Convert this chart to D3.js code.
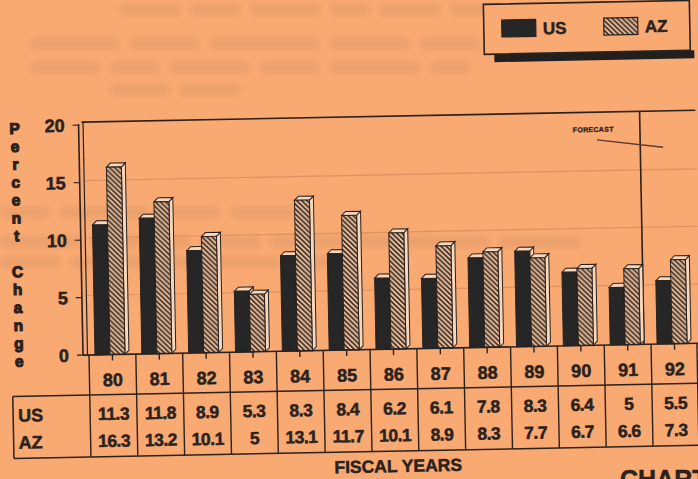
<!DOCTYPE html>
<html>
<head>
<meta charset="utf-8">
<script src="https://cdn.jsdelivr.net/npm/d3@7/dist/d3.min.js"></script>
<style>
  html, body { margin: 0; padding: 0; background: #f9a972; }
  svg { display: block; }
  text { font-family: "Liberation Sans", Arial, sans-serif; font-weight: bold; fill: #2a221e;
         stroke: #2a221e; stroke-width: 0.5px; }
</style>
</head>
<body>
<div id="chart"></div>
<script>
// Fiscal years and annual percent change, US vs Arizona
const years = ["80", "81", "82", "83", "84", "85", "86", "87", "88", "89", "90", "91", "92"];
const seriesNames = ["US", "AZ"];
const usValues = [11.3, 11.8, 8.9, 5.3, 8.3, 8.4, 6.2, 6.1, 7.8, 8.3, 6.4, 5, 5.5];
const azValues = [16.3, 13.2, 10.1, 5, 13.1, 11.7, 10.1, 8.9, 8.3, 7.7, 6.7, 6.6, 7.3];
const yTicks = [0, 5, 10, 15, 20];
const forecastFrom = "92";
const axisTitle = "Percent Change";
const xTitle = "FISCAL YEARS";

const W = 698, H = 479;
const ink = "#2a221e";
const dark = "#262626";
const light = "#f8d6bb";
const bg = "#f9a972";

const svg = d3.select("#chart").append("svg")
  .attr("width", W).attr("height", H);

const defs = svg.append("defs");
const hatch = defs.append("pattern")
  .attr("id", "hatch").attr("patternUnits", "userSpaceOnUse")
  .attr("width", 5).attr("height", 5);
hatch.append("rect").attr("width", 5).attr("height", 5).attr("fill", "#f4c7a3");
hatch.append("path")
  .attr("d", "M-1,-1 L6,6 M-6,-1 L1,6 M4,-1 L11,6")
  .attr("stroke", "#3a2c24").attr("stroke-width", 1.7);

const soft = defs.append("filter").attr("id", "soft")
  .attr("x", "-10%").attr("y", "-50%").attr("width", "120%").attr("height", "200%");
soft.append("feGaussianBlur").attr("stdDeviation", 2.4);

// faint print showing through the paper, drawn as word-like smudges
const ghost = svg.append("g").attr("filter", "url(#soft)").attr("opacity", 0.07);
const ghostLines = [
  [120, 4, [60, 50, 70, 40, 60, 50]], [30, 38, [90, 70, 110, 80, 60]],
  [30, 62, [70, 50, 80, 60, 90, 40]], [110, 84, [60, 60]],
  [0, 207, [50, 90, 60, 70]], [0, 236, [80, 100, 60, 120, 90, 80]], [0, 257, [60, 90, 110, 70]]
];
ghostLines.forEach(([x0, y0, words]) => {
  let cx = x0;
  words.forEach(w => {
    ghost.append("rect").attr("x", cx).attr("y", y0).attr("width", w).attr("height", 11)
      .attr("rx", 4).attr("fill", "#4a3a36");
    cx += w + 10;
  });
});

// the sheet sits slightly tilted
const g = svg.append("g").attr("transform", "rotate(-1.1, 88, 355)");

const x = d3.scaleBand().domain(years).range([89, 698]).padding(0);
const xs = d3.scaleBand().domain(seriesNames).range([6, 36]).padding(0);
const y = d3.scaleLinear().domain([0, 20]).range([355, 125]);
const depth = 4;

// gridlines
g.append("g").selectAll("line").data(yTicks.filter(t => t > 0 && t < 20)).join("line")
  .attr("x1", 88).attr("x2", 700)
  .attr("y1", d => y(d) - 2).attr("y2", d => y(d) - 2)
  .attr("stroke", "#b86e48").attr("stroke-opacity", 0.4).attr("stroke-width", 1.2);

// plot frame: top edge, double left wall, floor
g.append("line").attr("x1", 86).attr("x2", 700).attr("y1", y(20) - 3).attr("y2", y(20) - 3)
  .attr("stroke", ink).attr("stroke-width", 1.6);
g.append("line").attr("x1", 83).attr("x2", 83).attr("y1", y(20) - 1).attr("y2", y(0))
  .attr("stroke", ink).attr("stroke-width", 1.6);
g.append("line").attr("x1", 87.5).attr("x2", 87.5).attr("y1", y(20) - 3).attr("y2", y(0))
  .attr("stroke", ink).attr("stroke-width", 1.2);

// y axis ticks and labels
const yAxis = g.append("g");
yAxis.selectAll("line").data(yTicks).join("line")
  .attr("x1", 77).attr("x2", 83).attr("y1", d => y(d)).attr("y2", d => y(d))
  .attr("stroke", ink).attr("stroke-width", 1.2);
yAxis.selectAll("text").data(yTicks).join("text")
  .attr("x", 69).attr("y", d => y(d)).attr("dy", "0.36em")
  .attr("text-anchor", "end").attr("font-size", 18).text(d => d);

// vertical axis title, one letter per line
const letters = axisTitle.split("");
const titleG = g.append("g");
titleG.selectAll("text").data(letters).join("text")
  .attr("x", 19).attr("y", (d, i) => 127 + i * 17.9).attr("dy", "0.36em")
  .attr("text-anchor", "middle").attr("font-size", 15.5).style("stroke-width", "1.1px")
  .text(d => d);

// forecast divider and note
const fx = x(forecastFrom) - 7;
g.append("line").attr("x1", fx).attr("x2", fx).attr("y1", y(20) - 3).attr("y2", y(0))
  .attr("stroke", ink).attr("stroke-width", 1.6);
g.append("text").attr("x", 577).attr("y", y(18.55)).attr("font-size", 7)
  .attr("letter-spacing", "0.3px").style("stroke-width", "0.3px").text("FORECAST");
g.append("line").attr("x1", 601).attr("y1", y(17.85)).attr("x2", 667).attr("y2", y(17.1))
  .attr("stroke", "#5a3a2a").attr("stroke-width", 1.4);

// bars with a shallow 3D top and side
const data = years.map((yr, i) => ({ yr, US: usValues[i], AZ: azValues[i] }));
const barG = g.append("g");
data.forEach(d => {
  seriesNames.forEach(s => {
    const x0 = x(d.yr) + xs(s), w = xs.bandwidth();
    const t = y(d[s]), b = y(0);
    barG.append("path")
      .attr("d", `M${x0 + w},${t} L${x0 + w + depth},${t - depth} L${x0 + w + depth},${b - depth} L${x0 + w},${b} Z`)
      .attr("fill", light).attr("stroke", ink).attr("stroke-width", 1);
    barG.append("path")
      .attr("d", `M${x0},${t} L${x0 + depth},${t - depth} L${x0 + w + depth},${t - depth} L${x0 + w},${t} Z`)
      .attr("fill", light).attr("stroke", ink).attr("stroke-width", 1);
    barG.append("rect")
      .attr("x", x0).attr("y", t).attr("width", w).attr("height", b - t)
      .attr("fill", s === "US" ? dark : "url(#hatch)")
      .attr("stroke", ink).attr("stroke-width", 1);
  });
});

// floor line and category ticks
g.append("line").attr("x1", 83).attr("x2", 700).attr("y1", y(0)).attr("y2", y(0))
  .attr("stroke", ink).attr("stroke-width", 1.6);
g.append("g").selectAll("line").data(years).join("line")
  .attr("x1", d => x(d) + x.bandwidth() / 2).attr("x2", d => x(d) + x.bandwidth() / 2)
  .attr("y1", y(0)).attr("y2", y(0) + 6)
  .attr("stroke", ink).attr("stroke-width", 1.4);

// data table under the plot
const rowSep = 395, rowBottom = 457;
const rowY = { US: 414, AZ: 441 };
const table = g.append("g");
table.append("line").attr("x1", 12).attr("x2", 700).attr("y1", rowSep).attr("y2", rowSep)
  .attr("stroke", ink).attr("stroke-width", 1.5);
table.append("line").attr("x1", 12).attr("x2", 700).attr("y1", rowBottom).attr("y2", rowBottom)
  .attr("stroke", ink).attr("stroke-width", 1.5);
table.append("line").attr("x1", 12).attr("x2", 12).attr("y1", rowSep).attr("y2", rowBottom)
  .attr("stroke", ink).attr("stroke-width", 1.5);
table.selectAll("line.col").data(years.concat(["end"])).join("line").attr("class", "col")
  .attr("x1", d => d === "end" ? x.range()[1] - 1 : x(d))
  .attr("x2", d => d === "end" ? x.range()[1] - 1 : x(d))
  .attr("y1", y(0)).attr("y2", rowBottom)
  .attr("stroke", ink).attr("stroke-width", 1.4);
table.selectAll("text.yr").data(years).join("text").attr("class", "yr")
  .attr("x", d => x(d) + x.bandwidth() / 2).attr("y", 380).attr("dy", "0.36em")
  .attr("text-anchor", "middle").attr("font-size", 18).text(d => d);
seriesNames.forEach(s => {
  table.append("text").attr("x", 17).attr("y", rowY[s]).attr("dy", "0.36em")
    .attr("font-size", 18).text(s);
  table.selectAll("text.v" + s).data(data).join("text").attr("class", "v" + s)
    .attr("x", d => x(d.yr) + x.bandwidth() / 2).attr("y", rowY[s]).attr("dy", "0.36em")
    .attr("text-anchor", "middle").attr("font-size", 17.5).attr("letter-spacing", "-0.5px")
    .text(d => d[s]);
});

// x title
g.append("text").attr("x", 396).attr("y", 478).attr("text-anchor", "middle")
  .attr("font-size", 17.5).text(xTitle);

// legend with drop shadow
const lg = g.append("g");
lg.append("rect").attr("x", 500).attr("y", 62).attr("width", 200).attr("height", 8).attr("fill", "#231f1d");
lg.append("rect").attr("x", 490).attr("y", 12).attr("width", 206).attr("height", 50)
  .attr("fill", bg).attr("stroke", ink).attr("stroke-width", 1.6);
const legendItems = [
  { name: "US", fill: dark, sx: 508 },
  { name: "AZ", fill: "url(#hatch)", sx: 610 }
];
legendItems.forEach(it => {
  lg.append("rect").attr("x", it.sx).attr("y", 28).attr("width", 34).attr("height", 17)
    .attr("fill", it.fill).attr("stroke", ink).attr("stroke-width", 1.2);
  lg.append("text").attr("x", it.sx + 41).attr("y", 37).attr("dy", "0.36em")
    .attr("font-size", 17).text(it.name);
});

// page heading running off the edge
svg.append("text").attr("x", 620).attr("y", 488).attr("font-size", 25).text("CHART");
</script>
</body>
</html>
